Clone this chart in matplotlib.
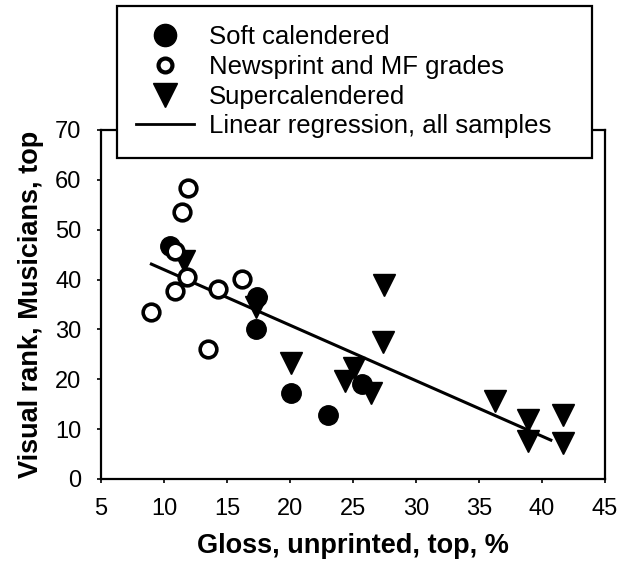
import matplotlib
matplotlib.use("Agg")
import matplotlib.pyplot as plt
from matplotlib.lines import Line2D

plt.rcParams['font.family'] = ['Liberation Sans', 'DejaVu Sans']

# Soft calendered
soft_x = [10.5, 17.4, 17.3, 20.1, 23.0, 25.7]
soft_y = [46.7, 36.5, 30.1, 17.2, 12.8, 19.0]

# Newsprint and MF grades
news_x = [11.9, 11.4, 10.9, 11.8, 10.85, 9.0, 14.3, 16.2, 13.5]
news_y = [58.3, 53.5, 45.7, 40.5, 37.7, 33.5, 38.1, 40.1, 26.0]

# Supercalendered
super_x = [11.6, 17.3, 20.1, 27.45, 27.4, 25.1, 24.4, 26.4, 36.3, 38.9, 38.9, 41.7, 41.7]
super_y = [43.7, 34.5, 23.2, 38.9, 27.5, 22.3, 19.6, 17.2, 15.6, 11.8, 7.6, 12.8, 7.2]

# regression line end points
reg_x = [9.0, 40.7]
reg_y = [43.1, 7.8]

fig = plt.figure(figsize=(6.25, 5.62), dpi=100)
ax = fig.add_axes([0.1616, 0.1477, 0.8064, 0.621])

ax.plot(reg_x, reg_y, color='black', lw=2.2, zorder=2)
ax.plot(soft_x, soft_y, 'o', ms=14, color='black', zorder=3)
ax.plot(news_x, news_y, 'o', ms=12, mfc='white', mec='black', mew=2.6, zorder=4)
ax.plot(super_x, super_y, 'v', ms=15.5, color='black', zorder=3)

ax.set_xlim(5, 45)
ax.set_ylim(0, 70)
ax.set_xticks(range(5, 46, 5))
ax.set_yticks(range(0, 71, 10))
for s in ax.spines.values():
    s.set_linewidth(1.6)
ax.tick_params(labelsize=17, length=3, width=1.2, direction='out')
ax.tick_params(axis='x', pad=11)
ax.tick_params(axis='y', pad=11)
ax.set_xlabel("Gloss, unprinted, top, %", fontsize=19.5, fontweight='bold', labelpad=9)
ax.set_ylabel("Visual rank, Musicians, top", fontsize=19.5, fontweight='bold', labelpad=8)

handles = [
    Line2D([], [], marker='o', ls='', ms=16, color='black'),
    Line2D([], [], marker='o', ls='', ms=10, mfc='white', mec='black', mew=3),
    Line2D([], [], marker='v', ls='', ms=17, color='black'),
    Line2D([], [], color='black', lw=2),
]
labels = ["Soft calendered", "Newsprint and MF grades", "Supercalendered",
          "Linear regression, all samples"]
leg = fig.legend(handles, labels, loc='upper left',
                 bbox_to_anchor=(0.187, 0.5, 0.76, 0.489), mode='expand',
                 fontsize=18.5, frameon=True, fancybox=False, framealpha=1,
                 edgecolor='black', handlelength=2.26, handletextpad=0.58,
                 labelspacing=0.22, borderpad=0.75, borderaxespad=0)
leg.get_frame().set_linewidth(1.6)
leg.set_zorder(5)

fig.savefig("out.png", dpi=100)
